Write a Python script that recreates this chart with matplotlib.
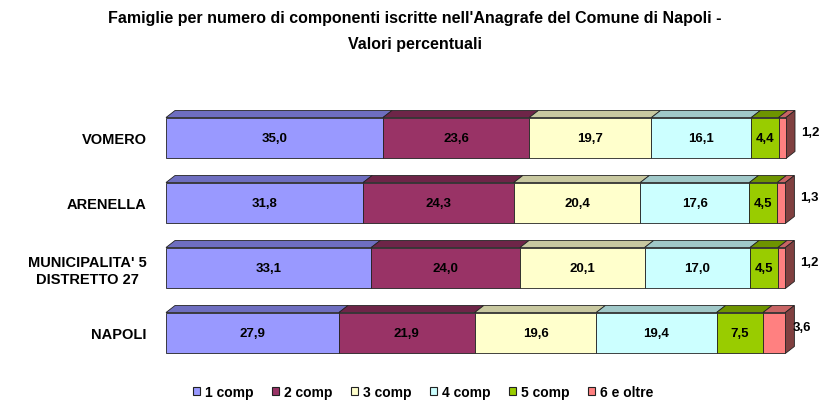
import matplotlib
matplotlib.use("Agg")
import matplotlib.pyplot as plt
from matplotlib.patches import Polygon, Patch
import numpy as np

plt.rcParams['font.family'] = ['Liberation Sans', 'DejaVu Sans']

categories = ['NAPOLI', "MUNICIPALITA' 5\nDISTRETTO 27", 'ARENELLA', 'VOMERO']
series_names = ['1 comp', '2 comp', '3 comp', '4 comp', '5 comp', '6 e oltre']
comp1 = [27.9, 33.1, 31.8, 35.0]
comp2 = [21.9, 24.0, 24.3, 23.6]
comp3 = [19.6, 20.1, 20.4, 19.7]
comp4 = [19.4, 17.0, 17.6, 16.1]
comp5 = [7.5, 4.5, 4.5, 4.4]
comp6 = [3.6, 1.2, 1.3, 1.2]
series = [comp1, comp2, comp3, comp4, comp5, comp6]

front_colors = ['#9999FF', '#993366', '#FFFFCC', '#CCFFFF', '#99CC00', '#FF8080']
top_colors = ['#6E6EC0', '#6E2548', '#C8C8A0', '#A0C8C8', '#6E9400', '#C86464']
side_color = '#804040'
edge = '#222222'

W, H = 830, 402
fig = plt.figure(figsize=(W / 100, H / 100), dpi=100)
ax_left, ax_right = 166, 786
ax_top, ax_bot = 100, 370
ax = fig.add_axes([ax_left / W, (H - ax_bot) / H, (ax_right - ax_left) / W, (ax_bot - ax_top) / H])
ymin, ymax = -0.554, 3.6
ax.set_xlim(0, 100)
ax.set_ylim(ymin, ymax)

px_x = 100 / (ax_right - ax_left)        # data units per pixel (x)
px_y = (ymax - ymin) / (ax_bot - ax_top)  # data units per pixel (y)
dx = 9 * px_x
dy = 7 * px_y
bh = 0.63

y = np.arange(len(categories))
left = np.zeros(len(categories))
for s, vals in enumerate(series):
    vals = np.array(vals)
    bars = ax.barh(y, vals, left=left, height=bh, color=front_colors[s], edgecolor=edge,
                   linewidth=0.6, zorder=3)
    for b in bars:
        b.set_clip_on(False)
    for i in range(len(y)):
        x0, x1 = left[i], left[i] + vals[i]
        yt = y[i] + bh / 2
        yb = y[i] - bh / 2
        top = Polygon([(x0, yt), (x1, yt), (x1 + dx, yt + dy), (x0 + dx, yt + dy)],
                      closed=True, facecolor=top_colors[s], edgecolor=edge, linewidth=0.6,
                      zorder=2, clip_on=False)
        ax.add_patch(top)
        if s == len(series) - 1:
            side = Polygon([(x1, yb), (x1, yt), (x1 + dx, yt + dy), (x1 + dx, yb + dy)],
                           closed=True, facecolor=side_color, edgecolor=edge, linewidth=0.6,
                           zorder=2, clip_on=False)
            ax.add_patch(side)
        label = f"{vals[i]:.1f}".replace('.', ',')
        cx = (x0 + x1) / 2
        cy = y[i]
        if s == len(series) - 1:
            cx = cx + 28 * px_x
            cy = cy + 6 * px_y
        ax.text(cx, cy, label, ha='center', va='center', fontsize=9.5, fontweight='bold',
                color='black', zorder=5, clip_on=False)
    left = left + vals

ax.set_yticks(y)
ax.set_yticklabels(categories, fontsize=10.5, fontweight='bold', multialignment='center')
ax.tick_params(axis='y', length=0, pad=14)
ax.set_xticks([])
for sp in ax.spines.values():
    sp.set_visible(False)
ax.patch.set_alpha(0)

fig.text(0.5, 1 - 19 / H, "Famiglie per numero di componenti iscritte nell'Anagrafe del Comune di Napoli -",
         ha='center', va='center', fontsize=11.5, fontweight='bold')
fig.text(0.5, 1 - 45 / H, "Valori percentuali",
         ha='center', va='center', fontsize=11.5, fontweight='bold')

handles = [Patch(facecolor=front_colors[k], edgecolor=edge, linewidth=0.8) for k in range(len(series_names))]
fig.legend(handles, series_names, loc='lower center', bbox_to_anchor=(0.51, -0.025), ncol=6,
           frameon=False, handlelength=0.5, handleheight=0.5, columnspacing=1.3, handletextpad=0.4,
           prop={'weight': 'bold', 'size': 10})

fig.savefig('out.png', dpi=100)
